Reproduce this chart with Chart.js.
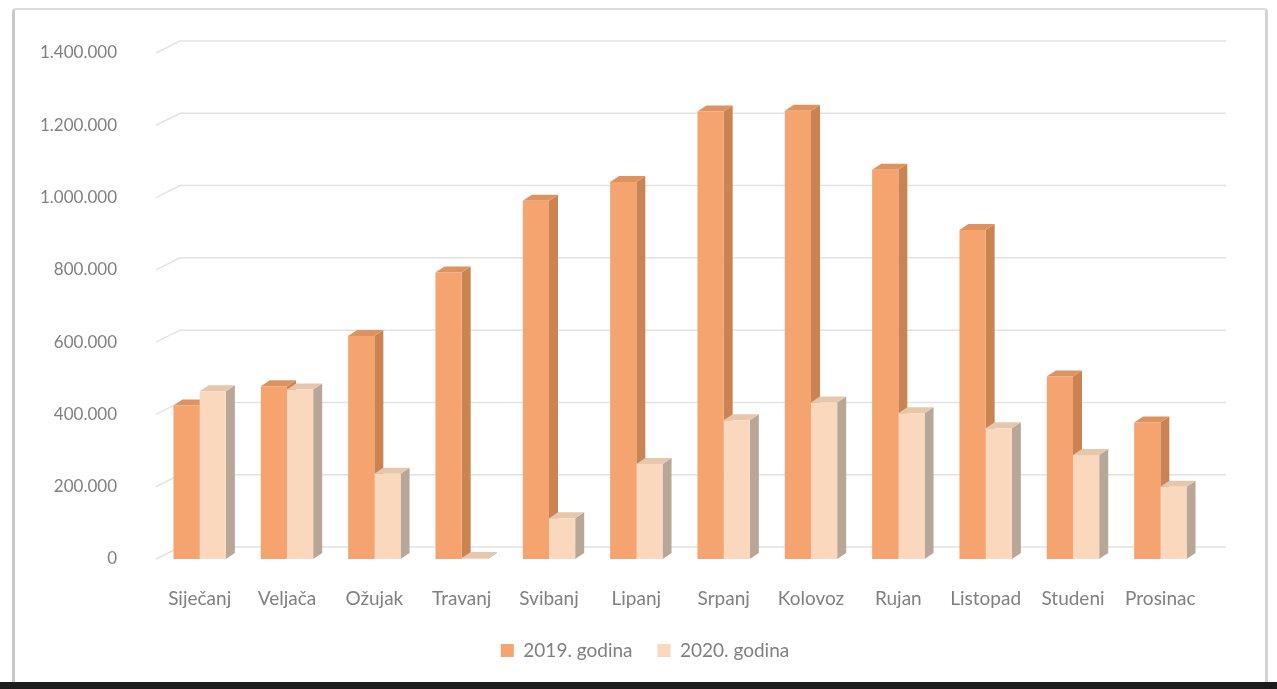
<!DOCTYPE html>
<html>
<head>
<meta charset="utf-8">
<script src="https://cdn.jsdelivr.net/npm/chart.js@4/dist/chart.umd.min.js"></script>
<style>
  html, body { margin: 0; padding: 0; background: #fff; }
  body { width: 1277px; height: 689px; position: relative; overflow: hidden; }
  .frame { position: absolute; left: 12px; top: 8px; width: 1256px; height: 674px;
           border-left: 3px solid #c8c8c8; border-top: 2px solid #dcdcdc; border-right: 3px solid #d4d4d4;
           border-radius: 4px 4px 0 0; box-sizing: border-box; }
  .strip { position: absolute; left: 0; right: 0; bottom: 0; height: 7px; background: #1c1c1c; }
  canvas { position: absolute; left: 0; top: 0; }
</style>
</head>
<body>
<div class="frame"></div>
<div class="strip"></div>
<canvas id="chart" width="1277" height="689"></canvas>
<script>
const months = ['Siječanj', 'Veljača', 'Ožujak', 'Travanj', 'Svibanj', 'Lipanj', 'Srpanj', 'Kolovoz', 'Rujan', 'Listopad', 'Studeni', 'Prosinac'];
const god2019 = [425000, 478000, 617000, 793000, 991000, 1043000, 1238000, 1240000, 1077000, 910000, 505000, 378000];
const god2020 = [464000, 469000, 236000, 3000, 113000, 263000, 384000, 433000, 403000, 362000, 288000, 200000];
const yTicks = [0, 200000, 400000, 600000, 800000, 1000000, 1200000, 1400000];

// colours: front / side / top
const C19 = ['#f5a46f', '#c98452', '#dc9360'];
const C20 = ['#f9d8bd', '#b8a696', '#e6c7ad'];

const fmt = v => v.toLocaleString('de-DE');

// back wall grid + 3D faces of the bars, drawn behind the front faces
const depth3d = {
  id: 'depth3d',
  afterLayout(chart) {
    // legend sits a bit right of centre in the original
    chart.legend.left += 86;
  },
  beforeDatasetsDraw(chart) {
    const { ctx, chartArea: a, scales: { y } } = chart;
    ctx.save();
    ctx.strokeStyle = '#e2e2e2';
    ctx.lineWidth = 1.5;
    yTicks.forEach(v => {
      const py = y.getPixelForValue(v);
      ctx.beginPath();
      ctx.moveTo(a.left, py);
      ctx.lineTo(a.left + 24, py - 12);
      ctx.lineTo(a.right + 22, py - 12);
      ctx.stroke();
    });
    const dx = 9, dy = 6;
    chart.data.datasets.forEach((ds, i) => {
      const cols = i === 0 ? C19 : C20;
      chart.getDatasetMeta(i).data.forEach(bar => {
        const { x, y: top, base, width } = bar.getProps(['x', 'y', 'base', 'width'], true);
        const l = x - width / 2, r = x + width / 2;
        ctx.fillStyle = cols[1];
        ctx.beginPath();
        ctx.moveTo(r, top); ctx.lineTo(r + dx, top - dy); ctx.lineTo(r + dx, base - dy); ctx.lineTo(r, base);
        ctx.closePath(); ctx.fill();
        ctx.fillStyle = cols[2];
        ctx.beginPath();
        ctx.moveTo(l, top); ctx.lineTo(l + dx, top - dy); ctx.lineTo(r + dx, top - dy); ctx.lineTo(r, top);
        ctx.closePath(); ctx.fill();
      });
    });
    ctx.restore();
  }
};

Chart.defaults.font.family = 'Lato, "Open Sans", sans-serif';

new Chart(document.getElementById('chart'), {
  type: 'bar',
  data: {
    labels: months,
    datasets: [
      { label: '2019. godina', data: god2019, backgroundColor: C19[0], barPercentage: 1, categoryPercentage: 0.6 },
      { label: '2020. godina', data: god2020, backgroundColor: C20[0], barPercentage: 1, categoryPercentage: 0.6 },
    ]
  },
  plugins: [depth3d],
  options: {
    responsive: false,
    animation: false,
    layout: { padding: { top: 53, right: 73, bottom: 19, left: 0 } },
    plugins: {
      tooltip: { enabled: false },
      legend: {
        position: 'bottom',
        labels: { color: '#808080', font: { size: 19 }, boxWidth: 13, boxHeight: 13, padding: 25 }
      }
    },
    scales: {
      x: {
        grid: { display: false },
        border: { display: false },
        ticks: { color: '#808080', font: { size: 19 }, padding: 20, maxRotation: 0 },
        afterFit: s => { s.height = 57; }
      },
      y: {
        min: 0, max: 1400000,
        grid: { display: false },
        border: { display: false },
        afterBuildTicks: s => { s.ticks = yTicks.map(v => ({ value: v })); },
        ticks: { color: '#808080', font: { size: 17 }, padding: 31, callback: v => fmt(v) },
        afterFit: s => { s.width = 156; }
      }
    }
  }
});
</script>
</body>
</html>
